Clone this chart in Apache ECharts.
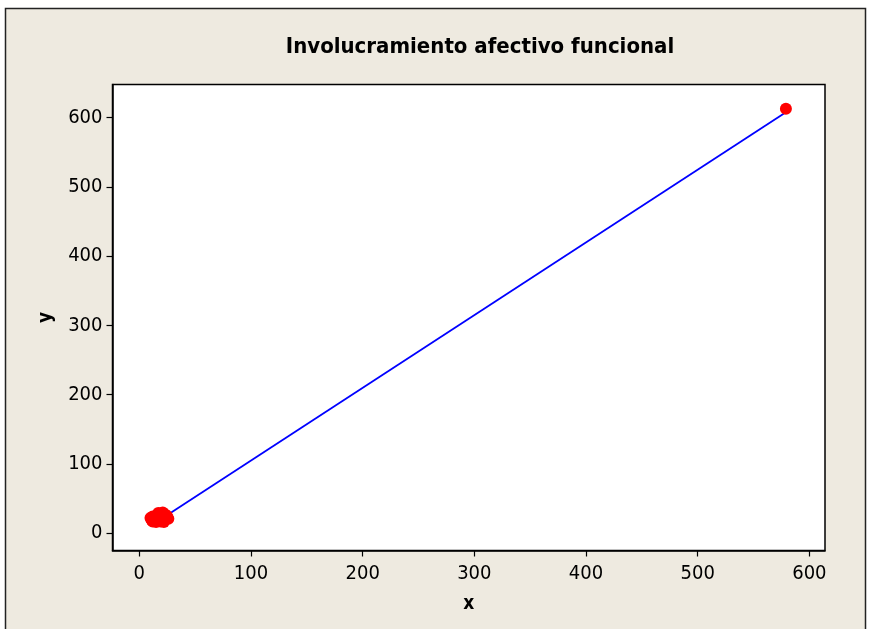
<!DOCTYPE html>
<html>
<head>
<meta charset="utf-8">
<script src="https://cdn.jsdelivr.net/npm/echarts@6/dist/echarts.min.js"></script>
<style>
html,body{margin:0;padding:0;background:#ffffff;}
#chart{width:871px;height:629px;}
</style>
</head>
<body>
<div id="chart"></div>
<script>
const chartTitle = 'Involucramiento afectivo funcional';
const xName = 'x';
const yName = 'y';
const clusterX = [10, 11, 12, 13, 14, 15, 16, 17, 18, 19, 20, 21, 22, 23, 24, 25, 26, 12, 15, 18, 20, 22, 24, 17, 21];
const clusterY = [22, 19, 24, 20, 18, 23, 26, 21, 28, 17, 25, 30, 19, 27, 22, 24, 21, 17, 16, 18, 22, 16, 26, 29, 20];
const outlierX = [579];
const outlierY = [613];
const fitLineX = [10, 579];
const fitLineY = [10.5, 608];
const xTicks = [0, 100, 200, 300, 400, 500, 600];
const yTicks = [0, 100, 200, 300, 400, 500, 600];
const xRange = [-24, 614];
const yRange = [-25, 648];

const pts = clusterX.map((x, i) => [x, clusterY[i]]).concat(outlierX.map((x, i) => [x, outlierY[i]]));
const linePts = fitLineX.map((x, i) => [x, fitLineY[i]]);

const font = 'DejaVu Sans Condensed, DejaVu Sans, sans-serif';
const chart = echarts.init(document.getElementById('chart'));
chart.setOption({
  backgroundColor: '#ffffff',
  animation: false,
  graphic: [{
    type: 'rect', z: -10, silent: true,
    shape: { x: 5.5, y: 8.5, width: 860, height: 640 },
    style: { fill: '#EEEAE0', stroke: '#222222', lineWidth: 1.5 }
  }],
  title: {
    text: chartTitle,
    left: 475, top: 31, textAlign: 'center',
    textStyle: { fontFamily: font, fontWeight: 'bold', fontSize: 22, color: '#000' }
  },
  grid: {
    left: 112.5, top: 84.5, right: 46, bottom: 78.5,
    show: true, backgroundColor: '#ffffff', borderColor: '#000', borderWidth: 1.5
  },
  xAxis: {
    type: 'value', min: xRange[0], max: xRange[1],
    name: xName, nameLocation: 'middle', nameGap: 44,
    nameTextStyle: { fontFamily: font, fontWeight: 'bold', fontSize: 19, color: '#000' },
    axisLine: { show: true, onZero: false, lineStyle: { color: '#000', width: 1.5 } },
    axisTick: { show: true, length: 6, customValues: xTicks, lineStyle: { color: '#000', width: 1.2 } },
    axisLabel: { customValues: xTicks, margin: 13, fontFamily: font, fontSize: 20, color: '#000' },
    splitLine: { show: false }
  },
  yAxis: {
    type: 'value', min: yRange[0], max: yRange[1],
    name: yName, nameLocation: 'middle', nameGap: 57,
    nameTextStyle: { fontFamily: font, fontWeight: 'bold', fontSize: 19, color: '#000' },
    axisLine: { show: true, onZero: false, lineStyle: { color: '#000', width: 1.5 } },
    axisTick: { show: true, length: 6, customValues: yTicks, lineStyle: { color: '#000', width: 1.2 } },
    axisLabel: { customValues: yTicks, margin: 10, fontFamily: font, fontSize: 20, color: '#000' },
    splitLine: { show: false }
  },
  series: [
    {
      type: 'line', data: linePts, symbol: 'none', z: 2,
      lineStyle: { color: '#0000FF', width: 1.8 }
    },
    {
      type: 'scatter', data: pts, symbol: 'circle', symbolSize: 12, z: 3,
      itemStyle: { color: '#FF0000', opacity: 1 }
    }
  ]
});
</script>
</body>
</html>
